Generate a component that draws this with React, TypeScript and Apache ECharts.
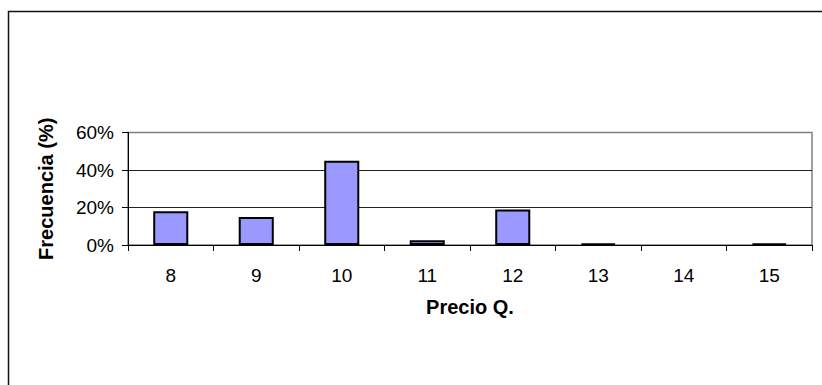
import React, { useEffect, useRef } from "react";
import * as echarts from "echarts";

// Price categories (Q.) and their relative frequency in percent
const precios = ["8", "9", "10", "11", "12", "13", "14", "15"];
const frecuencias = [18, 15, 45, 2.5, 19, 0.7, 0, 0.7];
const yTicks = { min: 0, max: 60, interval: 20 };

const FONT = 'Arial, "Liberation Sans", sans-serif';

export default function App() {
  const ref = useRef<HTMLDivElement>(null);

  useEffect(() => {
    if (!ref.current) return;
    const chart = echarts.init(ref.current, null, { renderer: "svg" });

    // empty categories get no outline, so nothing is drawn for them
    const barData = frecuencias.map((v) =>
      v === 0 ? { value: v, itemStyle: { borderWidth: 0 } } : v
    );

    chart.setOption({
      animation: false,
      backgroundColor: "#ffffff",
      grid: {
        left: 128,
        right: 10,
        top: 132.5,
        bottom: 140,
        show: true,
        borderColor: "#808080",
        borderWidth: 1.5,
        backgroundColor: "transparent",
      },
      graphic: [
        {
          type: "rect",
          shape: { x: 8.5, y: 11.5, width: 1000, height: 1000 },
          style: { fill: "none", stroke: "#111", lineWidth: 1.5 },
          silent: true,
          z: 100,
        },
      ],
      xAxis: {
        type: "category",
        data: precios,
        boundaryGap: true,
        name: "Precio Q.",
        nameLocation: "middle",
        nameGap: 52,
        nameTextStyle: {
          fontFamily: FONT,
          fontWeight: "bold",
          fontSize: 20,
          color: "#000",
        },
        axisLine: { show: true, lineStyle: { color: "#000", width: 1 } },
        axisTick: {
          show: true,
          alignWithLabel: false,
          length: 6,
          lineStyle: { color: "#000", width: 1 },
        },
        axisLabel: {
          fontFamily: FONT,
          fontSize: 19,
          color: "#000",
          margin: 21,
        },
        splitLine: { show: false },
      },
      yAxis: {
        type: "value",
        min: yTicks.min,
        max: yTicks.max,
        interval: yTicks.interval,
        name: "Frecuencia (%)",
        nameLocation: "middle",
        nameGap: 72,
        nameTextStyle: {
          fontFamily: FONT,
          fontWeight: "bold",
          fontSize: 20,
          color: "#000",
        },
        axisLine: { show: true, lineStyle: { color: "#000", width: 1 } },
        axisTick: {
          show: true,
          length: 6,
          lineStyle: { color: "#000", width: 1 },
        },
        axisLabel: {
          fontFamily: FONT,
          fontSize: 19,
          color: "#000",
          margin: 14,
          formatter: "{value}%",
        },
        splitLine: {
          show: true,
          showMinLine: false,
          showMaxLine: false,
          lineStyle: { color: "#222", width: 1 },
        },
      },
      series: [
        {
          type: "bar",
          data: barData,
          barWidth: "41%",
          itemStyle: {
            color: "#9999ff",
            borderColor: "#000",
            borderWidth: 2,
          },
        },
      ],
    });
    return () => chart.dispose();
  }, []);

  return (
    <div
      ref={ref}
      style={{ position: "absolute", left: 0, top: 0, width: 822, height: 385 }}
    />
  );
}
